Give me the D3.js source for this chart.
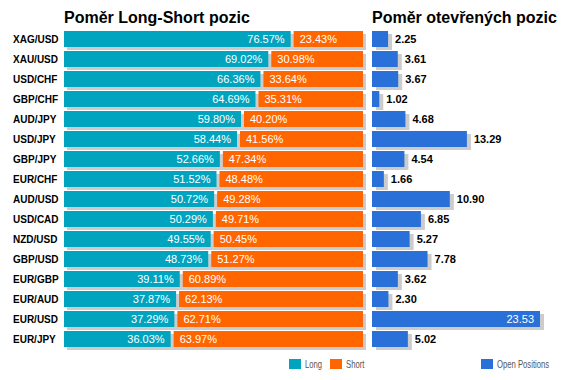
<!DOCTYPE html>
<html>
<head>
<meta charset="utf-8">
<script src="https://cdn.jsdelivr.net/npm/d3@7"></script>
<style>
  body { margin: 0; background: #fff; }
  text { font-family: "Liberation Sans", Arial, sans-serif; }
</style>
</head>
<body>
<div id="chart"></div>
<script>
var w = 569;
var h = 380;

// Data
var pairs = ["XAG/USD", "XAU/USD", "USD/CHF", "GBP/CHF", "AUD/JPY", "USD/JPY", "GBP/JPY", "EUR/CHF",
             "AUD/USD", "USD/CAD", "NZD/USD", "GBP/USD", "EUR/GBP", "EUR/AUD", "EUR/USD", "EUR/JPY"];
var longPct = [76.57, 69.02, 66.36, 64.69, 59.80, 58.44, 52.66, 51.52, 50.72, 50.29, 49.55, 48.73, 39.11, 37.87, 37.29, 36.03];
var shortPct = [23.43, 30.98, 33.64, 35.31, 40.20, 41.56, 47.34, 48.48, 49.28, 49.71, 50.45, 51.27, 60.89, 62.13, 62.71, 63.97];
var openPos = [2.25, 3.61, 3.67, 1.02, 4.68, 13.29, 4.54, 1.66, 10.90, 6.85, 5.27, 7.78, 3.62, 2.30, 23.53, 5.02];

var cLong = "#00a4bf", cShort = "#ff6600", cOpen = "#2a70d9", cShadow = "#cccccc";

var svg = d3.select("#chart").append("svg")
    .attr("width", w)
    .attr("height", h);

var y = d3.scaleBand()
    .domain(pairs)
    .range([29, 349])
    .paddingInner(0.2)
    .paddingOuter(0.1);

var leftX = 64, gap = 3;
var pct = d3.scaleLinear().domain([0, 100]).range([0, 296]);
var open = d3.scaleLinear().domain([0, 25]).range([372, 550.5]);

// titles
svg.append("text").attr("x", 64).attr("y", 23)
    .style("font-size", "16px").style("font-weight", "bold").text("Poměr Long-Short pozic");
svg.append("text").attr("x", 372).attr("y", 23)
    .style("font-size", "16px").style("font-weight", "bold").text("Poměr otevřených pozic");

// category labels
svg.selectAll("text.cat")
    .data(pairs)
    .enter().append("text")
    .attr("class", "cat")
    .attr("x", 13)
    .attr("y", function(d) { return y(d) + y.bandwidth() / 2 + 4; })
    .style("font-size", "10px")
    .style("font-weight", "bold")
    .text(function(d) { return d; });

var rows = svg.selectAll("g.row")
    .data(pairs)
    .enter().append("g")
    .attr("class", "row");

// left shadow
rows.append("rect")
    .attr("x", leftX + 3)
    .attr("y", function(d) { return y(d) + 3; })
    .attr("width", pct(100) + gap)
    .attr("height", y.bandwidth())
    .attr("fill", cShadow);

rows.append("rect")
    .attr("x", leftX)
    .attr("y", function(d) { return y(d); })
    .attr("width", function(d, i) { return pct(longPct[i]); })
    .attr("height", y.bandwidth())
    .attr("fill", cLong);

rows.append("rect")
    .attr("x", function(d, i) { return leftX + pct(longPct[i]) + gap; })
    .attr("y", function(d) { return y(d); })
    .attr("width", function(d, i) { return pct(shortPct[i]); })
    .attr("height", y.bandwidth())
    .attr("fill", cShort);

rows.append("text")
    .attr("x", function(d, i) { return leftX + pct(longPct[i]) - 6; })
    .attr("y", function(d) { return y(d) + y.bandwidth() / 2 + 4; })
    .attr("text-anchor", "end")
    .attr("fill", "#fff")
    .style("font-size", "11px")
    .text(function(d, i) { return longPct[i].toFixed(2) + "%"; });

rows.append("text")
    .attr("x", function(d, i) { return leftX + pct(longPct[i]) + gap + 6; })
    .attr("y", function(d) { return y(d) + y.bandwidth() / 2 + 4; })
    .attr("fill", "#fff")
    .style("font-size", "11px")
    .text(function(d, i) { return shortPct[i].toFixed(2) + "%"; });

// right chart
rows.append("rect")
    .attr("x", open(0) + 4)
    .attr("y", function(d) { return y(d) + 3; })
    .attr("width", function(d, i) { return open(openPos[i]) - open(0); })
    .attr("height", y.bandwidth())
    .attr("fill", cShadow);

rows.append("rect")
    .attr("x", open(0))
    .attr("y", function(d) { return y(d); })
    .attr("width", function(d, i) { return open(openPos[i]) - open(0); })
    .attr("height", y.bandwidth())
    .attr("fill", cOpen);

rows.append("text")
    .attr("x", function(d, i) { return openPos[i] > 20 ? open(openPos[i]) - 6 : open(openPos[i]) + 7; })
    .attr("y", function(d) { return y(d) + y.bandwidth() / 2 + 4; })
    .attr("text-anchor", function(d, i) { return openPos[i] > 20 ? "end" : "start"; })
    .attr("fill", function(d, i) { return openPos[i] > 20 ? "#fff" : "#000"; })
    .style("font-size", "11px")
    .style("font-weight", function(d, i) { return openPos[i] > 20 ? "normal" : "bold"; })
    .text(function(d, i) { return openPos[i].toFixed(2); });

// legends
var legend = [
    {x: 289, label: "Long", color: cLong},
    {x: 330, label: "Short", color: cShort},
    {x: 481, label: "Open Positions", color: cOpen}
];
var lg = svg.selectAll("g.legend")
    .data(legend)
    .enter().append("g")
    .attr("class", "legend");
lg.append("rect")
    .attr("x", function(d) { return d.x; })
    .attr("y", 359)
    .attr("width", 12)
    .attr("height", 10)
    .attr("fill", function(d) { return d.color; });
lg.append("text")
    .attr("transform", function(d) { return "translate(" + (d.x + 16) + ",368) scale(0.77,1)"; })
    .attr("fill", "#555")
    .style("font-size", "10px")
    .text(function(d) { return d.label; });
</script>
</body>
</html>
